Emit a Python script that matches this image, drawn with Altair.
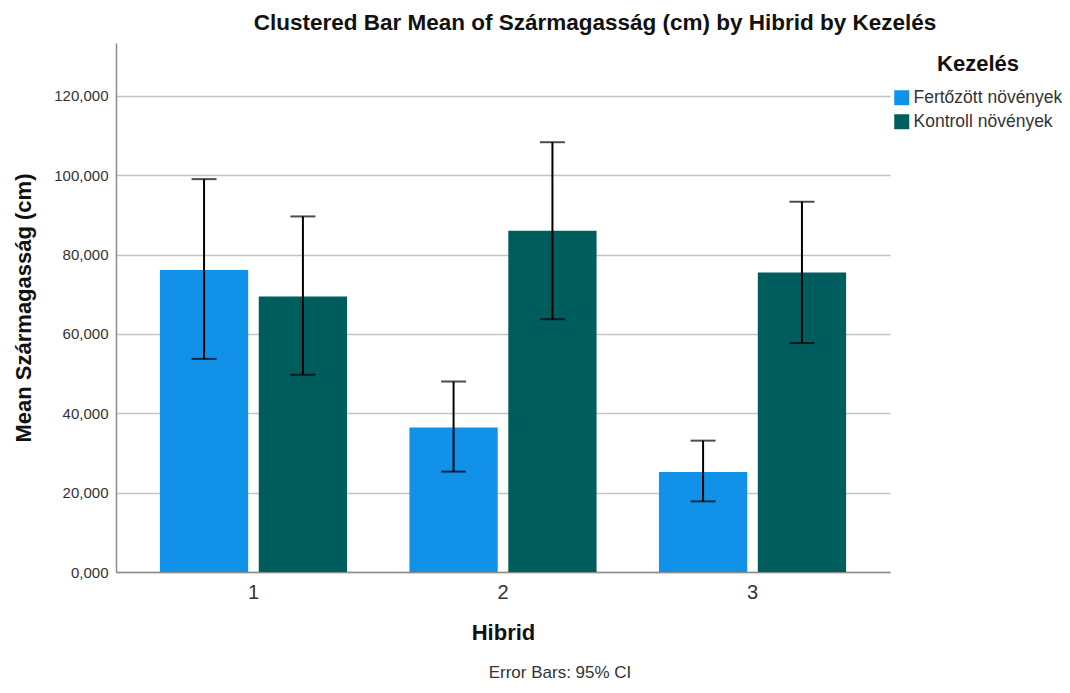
import altair as alt
import pandas as pd

hibrid = ["1", "2", "3"]
kezeles = ["Fertőzött növények", "Kontroll növények"]
mean_fert = [76.1, 36.4, 25.2]
lo_fert = [53.7, 25.3, 17.8]
hi_fert = [99.0, 48.0, 33.1]
mean_kont = [69.4, 86.0, 75.5]
lo_kont = [49.7, 63.7, 57.7]
hi_kont = [89.6, 108.3, 93.3]
y_ticks = [0, 20, 40, 60, 80, 100, 120]
colors = ["#1192e8", "#005d5d"]

rows = []
for i, h in enumerate(hibrid):
    rows.append({"Hibrid": h, "Kezelés": kezeles[0], "mean": mean_fert[i], "lo": lo_fert[i], "hi": hi_fert[i]})
    rows.append({"Hibrid": h, "Kezelés": kezeles[1], "mean": mean_kont[i], "lo": lo_kont[i], "hi": hi_kont[i]})
df = pd.DataFrame(rows)

FONT = "Liberation Sans"

x_enc = alt.X("Hibrid:N", sort=hibrid,
              scale=alt.Scale(paddingInner=0.25, paddingOuter=0.176),
              axis=alt.Axis(title="Hibrid", labelAngle=0, labelFontSize=20, labelColor="#333333",
                            labelPadding=10, ticks=False, titleFontSize=22, titleFontWeight="bold",
                            titleColor="#111111", titlePadding=20, domainColor="#8c8c8c",
                            domainWidth=1.5, grid=False))
xo_enc = alt.XOffset("Kezelés:N", sort=kezeles, scale=alt.Scale(paddingInner=0.107, paddingOuter=0))

bars = alt.Chart(df).mark_bar().encode(
    x=x_enc,
    xOffset=xo_enc,
    y=alt.Y("mean:Q", scale=alt.Scale(domain=[0, 133.3], nice=False),
            axis=alt.Axis(title="Mean Szármagasság (cm)", values=y_ticks,
                          labelExpr="replace(format(datum.value, '.3f'), '.', ',')",
                          labelFontSize=15, labelColor="#333333", labelPadding=8, ticks=False,
                          titleFontSize=22, titleFontWeight="bold", titleColor="#111111",
                          titlePadding=18, domainColor="#8c8c8c", domainWidth=1.5,
                          gridColor="#c4c4c4", gridWidth=1.5)),
    color=alt.Color("Kezelés:N", sort=kezeles, scale=alt.Scale(domain=kezeles, range=colors),
                    legend=alt.Legend(title="Kezelés", orient="none", legendX=777, legendY=11,
                                      titleFontSize=22, titleFontWeight="bold", titleColor="#111111",
                                      titleAnchor="middle", titlePadding=13,
                                      labelFontSize=17.5, labelColor="#333333",
                                      symbolType="square", symbolSize=225, symbolStrokeWidth=0,
                                      symbolOffset=0, labelOffset=3, rowPadding=5)),
)

err = alt.Chart(df).mark_rule(color="#000000", strokeWidth=2).encode(
    x=alt.X("Hibrid:N", sort=hibrid),
    xOffset=xo_enc,
    y="lo:Q",
    y2="hi:Q",
)
cap_hi = alt.Chart(df).mark_tick(color="#000000", thickness=2, size=25).encode(
    x=alt.X("Hibrid:N", sort=hibrid),
    xOffset=xo_enc,
    y="hi:Q",
)
cap_lo = alt.Chart(df).mark_tick(color="#000000", thickness=2, size=25).encode(
    x=alt.X("Hibrid:N", sort=hibrid),
    xOffset=xo_enc,
    y="lo:Q",
)

caption = alt.Chart(pd.DataFrame({"t": ["Error Bars: 95% CI"]})).mark_text(
    fontSize=17, color="#333333", font=FONT, align="center", baseline="bottom"
).encode(text="t:N", x=alt.value(444), y=alt.value(639))

chart = alt.layer(bars, err, cap_hi, cap_lo, caption).properties(
    width=774, height=529,
    autosize=alt.AutoSizeParams(type="none"),
    padding={"left": 108, "top": 35, "right": 172, "bottom": 113},
    title=alt.TitleParams("Clustered Bar Mean of Szármagasság (cm) by Hibrid by Kezelés",
                          fontSize=22.5, fontWeight="bold", color="#111111", font=FONT,
                          anchor="middle", dx=92, offset=9),
).configure(font=FONT).configure_view(stroke=None)

chart.save("out.html", embed_options={"renderer": "svg", "actions": False})
